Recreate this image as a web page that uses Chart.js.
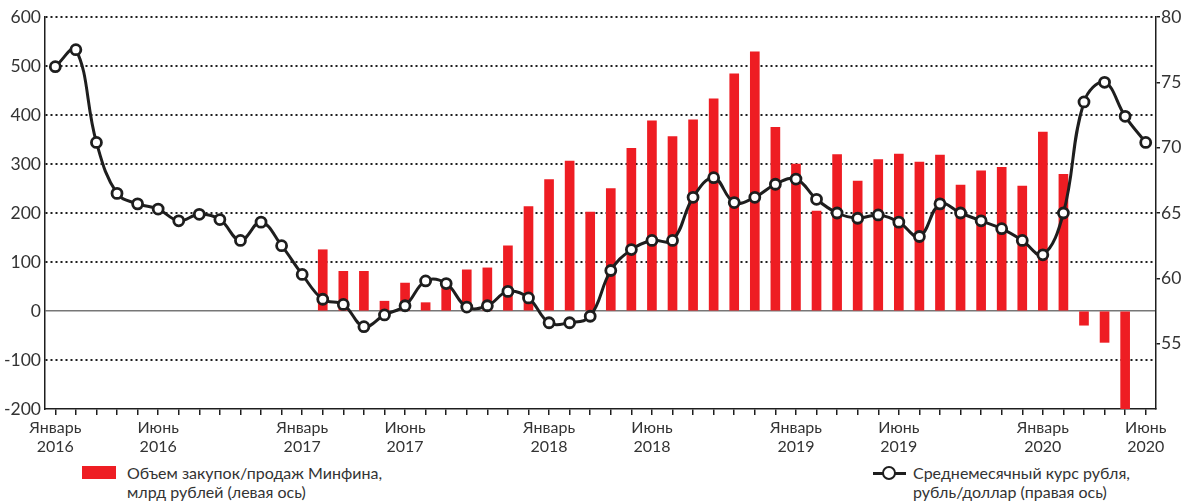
<!DOCTYPE html>
<html>
<head>
<meta charset="utf-8">
<script src="https://cdn.jsdelivr.net/npm/chart.js@4"></script>
<style>
  body { margin: 0; background: #fff; font-family: Lato, "Noto Sans", sans-serif; color: #333; }
  #wrap { position: relative; width: 1195px; height: 504px; }
  #box { position: absolute; left: 0; top: 0; width: 1195px; height: 460px; }
  .leg { position: absolute; font-size: 16px; line-height: 19px; color: #333; }
  .sw { position: absolute; }
</style>
</head>
<body>
<div id="wrap">
  <div id="box"><canvas id="graphique"></canvas></div>
  <div class="sw" style="left:82px;top:466px;width:34px;height:13px;background:#ee1d23;"></div>
  <div class="leg" style="left:127px;top:463px;">Объем закупок/продаж Минфина,<br>млрд рублей (левая ось)</div>
  <div class="sw" style="left:873px;top:472px;width:33px;height:3px;background:#1e1e1e;"></div>
  <div class="sw" style="left:882px;top:466px;width:10px;height:10px;border:2.5px solid #1e1e1e;border-radius:50%;background:#fff;"></div>
  <div class="leg" style="left:913px;top:463px;">Среднемесячный курс рубля,<br>рубль/доллар (правая ось)</div>
</div>
<script>
// mois : janvier 2016 - juin 2020
var months = [
  '01.2016','02.2016','03.2016','04.2016','05.2016','06.2016','07.2016','08.2016','09.2016','10.2016','11.2016','12.2016',
  '01.2017','02.2017','03.2017','04.2017','05.2017','06.2017','07.2017','08.2017','09.2017','10.2017','11.2017','12.2017',
  '01.2018','02.2018','03.2018','04.2018','05.2018','06.2018','07.2018','08.2018','09.2018','10.2018','11.2018','12.2018',
  '01.2019','02.2019','03.2019','04.2019','05.2019','06.2019','07.2019','08.2019','09.2019','10.2019','11.2019','12.2019',
  '01.2020','02.2020','03.2020','04.2020','05.2020','06.2020'
];

var tickLabels = {
  '01.2016': ['Январь', '2016'], '06.2016': ['Июнь', '2016'],
  '01.2017': ['Январь', '2017'], '06.2017': ['Июнь', '2017'],
  '01.2018': ['Январь', '2018'], '06.2018': ['Июнь', '2018'],
  '01.2019': ['Январь', '2019'], '06.2019': ['Июнь', '2019'],
  '01.2020': ['Январь', '2020'], '06.2020': ['Июнь', '2020']
};

// Объем закупок/продаж Минфина, млрд рублей
var purchases = [
  null, null, null, null, null, null, null, null, null, null, null, null,
  null, 125, 81, 81, 20, 57, 17, 60, 84, 88, 133, 213,
  268, 306, 202, 250, 332, 388, 356, 390, 433, 484, 529, 375,
  300, 204, 319, 265, 309, 320, 304, 318, 257, 286, 293, 255,
  365, 279, -29, -64, -200, null
];

// Среднемесячный курс рубля, рубль/доллар
var rate = [
  76.2, 77.5, 70.4, 66.5, 65.7, 65.3, 64.4, 64.9, 64.5, 62.9, 64.3, 62.5,
  60.3, 58.4, 58.0, 56.3, 57.2, 57.9, 59.8, 59.6, 57.8, 57.9, 59.0, 58.5,
  56.6, 56.6, 57.1, 60.6, 62.2, 62.9, 62.9, 66.2, 67.7, 65.8, 66.2, 67.2,
  67.6, 66.05, 65.0, 64.6, 64.85, 64.3, 63.2, 65.7, 65.0, 64.4, 63.8, 62.9,
  61.8, 65.0, 73.5, 75.0, 72.4, 70.4
];

var leftTicks = [600, 500, 400, 300, 200, 100, 0, -100, -200];
var rightTicks = [80, 75, 70, 65, 60, 55];

var ctx = document.getElementById('graphique').getContext('2d');
var chart = new Chart(ctx, {
  type: 'bar',
  data: {
    labels: months,
    datasets: [{
      type: 'line',
      label: 'Среднемесячный курс рубля, рубль/доллар (правая ось)',
      data: rate,
      yAxisID: 'y1',
      borderColor: '#1e1e1e',
      borderWidth: 3,
      tension: 0.4,
      pointRadius: 5,
      pointBorderWidth: 2.8,
      pointBackgroundColor: '#fff',
      pointBorderColor: '#1e1e1e',
      order: 0
    }, {
      label: 'Объем закупок/продаж Минфина, млрд рублей (левая ось)',
      data: purchases,
      yAxisID: 'y',
      backgroundColor: '#ee1d23',
      barThickness: 9,
      order: 1
    }]
  },
  options: {
    responsive: true,
    maintainAspectRatio: false,
    animation: false,
    layout: { padding: { top: 17, right: 0, left: 0, bottom: 0 } },
    plugins: { legend: { display: false }, tooltip: { enabled: false } },
    scales: {
      x: {
        offset: true,
        grid: { offset: false, drawOnChartArea: false, tickLength: 6, tickColor: '#1e1e1e', lineWidth: 1.5 },
        border: { color: '#1e1e1e', width: 1.5 },
        ticks: {
          autoSkip: false, maxRotation: 0, padding: 3,
          color: '#333', font: { family: 'Lato', size: 16 },
          callback: function(value, index) { return tickLabels[months[index]] || ''; }
        },
        afterFit: function(scale) { scale.height = 51; }
      },
      y: {
        position: 'left',
        min: -200, max: 600,
        afterBuildTicks: function(scale) { scale.ticks = leftTicks.map(function(v) { return { value: v }; }); },
        grid: {
          drawTicks: false,
          color: function(c) {
            if (!c.tick) return '#1e1e1e';
            if (c.tick.value === 0) return '#777';
            if (c.tick.value === -200) return 'rgba(0,0,0,0)';
            return '#1e1e1e';
          },
          lineWidth: function(c) { return c.tick && c.tick.value === 0 ? 1.5 : 2; }
        },
        border: {
          color: '#1e1e1e', width: 1.5,
          dash: function(c) { return c.tick && c.tick.value !== 0 ? [2, 3] : []; }
        },
        ticks: { padding: 4, color: '#333', font: { family: 'Lato', size: 17.5 } },
        afterFit: function(scale) { scale.width = 45; }
      },
      y1: {
        position: 'right',
        min: 50, max: 80,
        afterBuildTicks: function(scale) { scale.ticks = rightTicks.map(function(v) { return { value: v }; }); },
        grid: { drawOnChartArea: false, tickLength: 4, tickColor: '#1e1e1e', lineWidth: 1.5 },
        border: { color: '#1e1e1e', width: 1.5 },
        ticks: { padding: 1, color: '#333', font: { family: 'Lato', size: 17.5 } },
        afterFit: function(scale) { scale.width = 39; }
      }
    }
  }
});
</script>
</body>
</html>
